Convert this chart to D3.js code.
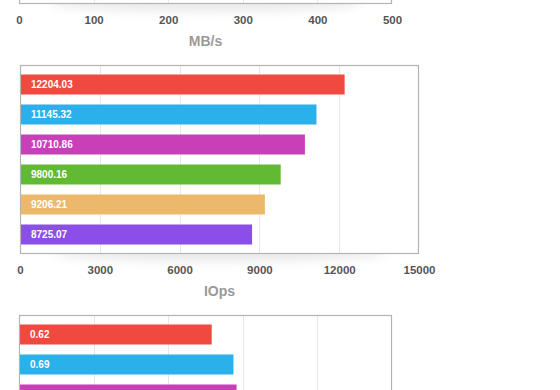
<!DOCTYPE html>
<html>
<head>
<meta charset="utf-8">
<style>
    body { margin: 0; background: #fff; }
    svg { display: block; font-family: "Liberation Sans", Arial, Helvetica, sans-serif; }
</style>
</head>
<body>
<svg id="chart" width="560" height="390"></svg>
<script src="https://d3js.org/d3.v7.min.js"></script>
<script>
// data
var colors = ["#f04a40", "#2ab0ea", "#c840b8", "#62ba34", "#ecb96c", "#8c4ee8"];

// MB/s chart: only the bottom edge is in view, no bars visible
var mbValues = [];
var mbTicks = [0, 100, 200, 300, 400, 500];

var iopsValues = [12204.03, 11145.32, 10710.86, 9800.16, 9206.21, 8725.07];
var iopsTicks = [0, 3000, 6000, 9000, 12000, 15000];

// latency chart: only the first three bars are in view
var latValues = [0.62, 0.69, 0.70];
var latTicks = [0, 0.24, 0.48, 0.72, 0.96, 1.2];

var W = 560, H = 390;
var svg = d3.select("#chart");

var defs = svg.append("defs");
defs.append("filter")
    .attr("id", "blur")
    .attr("x", "-20%").attr("y", "-200%")
    .attr("width", "140%").attr("height", "500%")
    .append("feGaussianBlur")
    .attr("stdDeviation", 6);

// only keep texts that land inside the window
function inView(yPos) { return yPos > 0 && yPos < H - 6; }

function drawChart(opt)
{
    var g = svg.append("g");
    var plotH = 189;
    var top = opt.top;
    var bottom = top + plotH;

    var x = d3.scaleLinear()
        .domain([0, opt.ticks[opt.ticks.length - 1]])
        .range([opt.left, opt.left + opt.width]);

    var y = d3.scaleBand()
        .domain(d3.range(6))
        .range([top, bottom])
        .paddingInner(1 / 3)
        .paddingOuter(0.3167);

    // soft shadow under the frame
    g.append("ellipse")
        .attr("cx", opt.left + opt.width / 2)
        .attr("cy", bottom - 2)
        .attr("rx", opt.width * 0.42)
        .attr("ry", 9)
        .attr("fill", "#000")
        .attr("opacity", 0.09)
        .attr("filter", "url(#blur)");

    g.append("rect")
        .attr("x", opt.left)
        .attr("y", top)
        .attr("width", opt.width)
        .attr("height", plotH)
        .attr("fill", "#fff");

    // gridlines
    g.selectAll(".grid")
        .data(opt.ticks.slice(1, -1))
        .enter().append("line")
        .attr("x1", function(d) { return Math.round(x(d)) + 0.5; })
        .attr("x2", function(d) { return Math.round(x(d)) + 0.5; })
        .attr("y1", top)
        .attr("y2", bottom)
        .attr("stroke", "#e6e6e6")
        .attr("stroke-width", 1);

    // bars
    g.selectAll(".bar")
        .data(opt.values)
        .enter().append("rect")
        .attr("x", x(0))
        .attr("y", function(d, i) { return y(i); })
        .attr("width", function(d) { return x(d) - x(0); })
        .attr("height", y.bandwidth())
        .attr("fill", function(d, i) { return colors[i]; });

    g.selectAll(".val")
        .data(opt.values.filter(function(d, i) { return inView(y(i) + y.bandwidth() / 2 + 4); }))
        .enter().append("text")
        .attr("x", x(0) + 11)
        .attr("y", function(d, i) { return y(i) + y.bandwidth() / 2; })
        .attr("dy", "0.35em")
        .attr("fill", "#fff")
        .attr("font-size", "10px")
        .attr("font-weight", "bold")
        .text(function(d) { return opt.fmt(d); });

    // frame
    g.append("rect")
        .attr("x", opt.left + 0.5)
        .attr("y", top + 0.5)
        .attr("width", opt.width - 1)
        .attr("height", plotH - 1)
        .attr("fill", "none")
        .attr("stroke", "#b3b3b3")
        .attr("stroke-width", 1.2);

    if (!inView(bottom + 20)) return;

    // axis labels
    var axis = g.append("g")
        .attr("transform", "translate(0," + (bottom + 16) + ")")
        .call(d3.axisBottom(x).tickValues(opt.ticks).tickSize(0).tickPadding(0).tickFormat(opt.tickFmt));
    axis.select(".domain").remove();
    axis.selectAll("text")
        .attr("dy", "0.35em")
        .attr("fill", "#555")
        .attr("font-size", "11.5px")
        .attr("font-weight", "bold")
        .attr("font-family", "Liberation Sans, Arial, sans-serif");

    g.append("text")
        .attr("x", opt.left + opt.width / 2)
        .attr("y", bottom + 37)
        .attr("dy", "0.35em")
        .attr("text-anchor", "middle")
        .attr("fill", "#9a9a9a")
        .attr("font-size", "14px")
        .attr("font-weight", "bold")
        .text(opt.title);
}

drawChart({ left: 19, width: 373, top: 4 - 189, values: mbValues, ticks: mbTicks,
    title: "MB/s", fmt: d3.format(".2f"), tickFmt: d3.format("d") });
drawChart({ left: 20, width: 399, top: 65, values: iopsValues, ticks: iopsTicks,
    title: "IOps", fmt: d3.format(".2f"), tickFmt: d3.format("d") });
drawChart({ left: 19, width: 373, top: 315, values: latValues, ticks: latTicks,
    title: "ms", fmt: d3.format(".2f"), tickFmt: d3.format("") });
</script>
</body>
</html>
